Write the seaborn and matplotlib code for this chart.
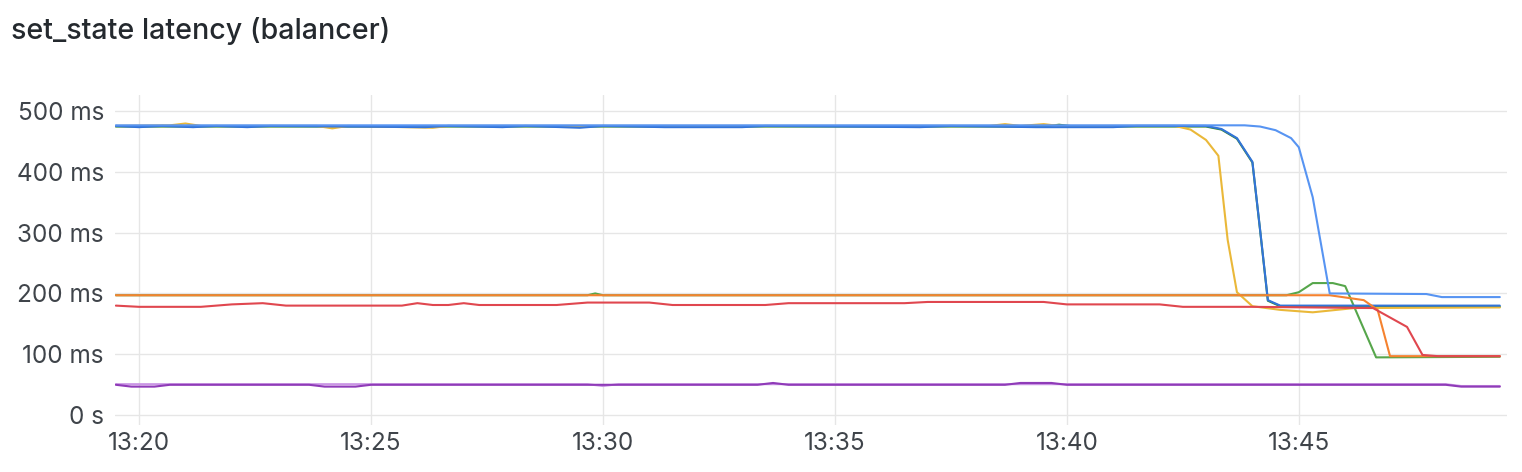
import pandas as pd
import matplotlib
matplotlib.use("Agg")
import matplotlib.pyplot as plt
import matplotlib.dates as mdates
from matplotlib.ticker import FuncFormatter, MultipleLocator
import seaborn as sns

# latency series (ms), each with its own sample times
light_blue_t = ["13:19:30", "13:21:00", "13:30:00", "13:42:00", "13:43:50", "13:44:10", "13:44:30",
                "13:44:50", "13:45:00", "13:45:18", "13:45:40", "13:47:45", "13:48:05", "13:49:20"]
light_blue_v = [476, 476, 476, 476, 476, 474, 468, 455, 440, 358, 200, 199, 194, 194]

dark_blue_t = ["13:19:30", "13:20:00", "13:20:30", "13:21:10", "13:21:40", "13:22:20", "13:22:50",
               "13:26:10", "13:26:40", "13:27:50", "13:28:20", "13:29:30", "13:30:00", "13:31:20",
               "13:33:00", "13:33:30", "13:36:50", "13:37:30", "13:39:20", "13:41:00", "13:41:30",
               "13:43:00", "13:43:20", "13:43:40", "13:44:00", "13:44:10", "13:44:20", "13:44:36",
               "13:49:20"]
dark_blue_v = [475, 473, 475, 473, 475, 473, 475, 473, 475, 473, 475, 472, 475, 473,
               473, 475, 473, 475, 473, 473, 475, 475, 470, 455, 416, 304, 189, 180, 180]

dark_green_t = ["13:19:30", "13:39:30", "13:39:50", "13:40:10", "13:43:00", "13:43:20", "13:43:40",
                "13:44:00", "13:44:10", "13:44:20", "13:44:36", "13:49:20"]
dark_green_v = [474, 474, 477, 474, 474, 469, 454, 415, 303, 188, 179, 178]

yellow_t = ["13:19:30", "13:20:40", "13:21:00", "13:21:20", "13:23:50", "13:24:10", "13:24:30",
            "13:26:20", "13:26:40", "13:38:20", "13:38:40", "13:39:00", "13:39:30", "13:39:50",
            "13:42:20", "13:42:40", "13:43:00", "13:43:16", "13:43:28", "13:43:40", "13:44:00",
            "13:44:36", "13:45:18", "13:46:12", "13:49:20"]
yellow_v = [475, 476, 479, 475, 475, 471, 475, 472, 475, 475, 478, 475, 478, 475,
            475, 469, 452, 426, 288, 202, 179, 173, 169, 176, 177]

green_t = ["13:19:30", "13:29:40", "13:29:50", "13:30:00", "13:44:44", "13:45:00", "13:45:18",
           "13:45:44", "13:46:00", "13:46:40", "13:49:20"]
green_v = [197, 197, 200, 197, 197, 202, 217, 217, 212, 95, 96]

orange_t = ["13:19:30", "13:45:40", "13:46:24", "13:46:42", "13:46:58", "13:49:20"]
orange_v = [197, 197, 189, 173, 97, 97]

red_t = ["13:19:30", "13:20:00", "13:21:20", "13:22:00", "13:22:40", "13:23:10", "13:25:40",
         "13:26:00", "13:26:20", "13:26:40", "13:27:00", "13:27:20", "13:29:00", "13:29:40",
         "13:31:00", "13:31:30", "13:33:30", "13:34:00", "13:36:30", "13:37:00", "13:39:30",
         "13:40:00", "13:42:00", "13:42:30", "13:44:00", "13:46:36", "13:47:20", "13:47:40",
         "13:48:00", "13:49:20"]
red_v = [180, 178, 178, 182, 184, 180, 180, 184, 181, 181, 184, 181, 181, 185,
         185, 181, 181, 184, 184, 186, 186, 182, 182, 178, 178, 176, 145, 99, 97, 97]

purple_t = ["13:19:30", "13:19:50", "13:20:20", "13:20:40", "13:23:40", "13:24:00", "13:24:40",
            "13:25:00", "13:33:20", "13:33:40", "13:34:00", "13:38:40", "13:39:00", "13:39:40",
            "13:40:00", "13:48:10", "13:48:30", "13:49:20"]
purple_v = [50, 47, 47, 50, 50, 47, 47, 50, 50, 53, 50, 50, 53, 53, 50, 50, 47, 47]

light_purple_t = ["13:19:30", "13:29:40", "13:30:00", "13:30:20", "13:48:10", "13:48:30", "13:49:20"]
light_purple_v = [51, 51, 48, 51, 51, 48, 48]

series = {
    "dark_green": (dark_green_t, dark_green_v, "#37872D"),
    "green": (green_t, green_v, "#56A64B"),
    "yellow": (yellow_t, yellow_v, "#EAB839"),
    "dark_blue": (dark_blue_t, dark_blue_v, "#3274D9"),
    "orange": (orange_t, orange_v, "#F5822F"),
    "red": (red_t, red_v, "#E0474F"),
    "light_purple": (light_purple_t, light_purple_v, "#CA95E5"),
    "purple": (purple_t, purple_v, "#8F3BB8"),
    "light_blue": (light_blue_t, light_blue_v, "#5794F2"),
}

frames = []
for name, (ts, vs, _) in series.items():
    frames.append(pd.DataFrame({
        "time": pd.to_datetime(["2024-01-01 " + t for t in ts]),
        "latency": vs,
        "series": name,
    }))
df = pd.concat(frames, ignore_index=True)
palette = {name: c for name, (_, _, c) in series.items()}

sns.set_style("white")
plt.rcParams["font.family"] = ["Inter", "DejaVu Sans"]
text_color = "#3f444a"

fig = plt.figure(figsize=(15.22, 4.72), dpi=100)
ax = fig.add_axes([0.0756, 0.0996, 0.9144, 0.6994])

sns.lineplot(data=df, x="time", y="latency", hue="series", hue_order=list(series),
             palette=palette, estimator=None, sort=False, legend=False,
             linewidth=1.5, ax=ax)

ax.set_ylim(-16, 526)
ax.set_xlim(pd.Timestamp("2024-01-01 13:19:29"), pd.Timestamp("2024-01-01 13:49:29"))
ax.yaxis.set_major_locator(MultipleLocator(100))
ax.yaxis.set_major_formatter(FuncFormatter(lambda v, _: "0 s" if v == 0 else f"{int(v)} ms"))
ax.xaxis.set_major_locator(mdates.MinuteLocator(byminute=range(0, 60, 5)))
ax.xaxis.set_major_formatter(mdates.DateFormatter("%H:%M"))

ax.grid(True, color="#e6e6e6", linewidth=1.0)
ax.set_axisbelow(True)
for s in ax.spines.values():
    s.set_visible(False)
ax.tick_params(axis="both", length=0, labelsize=17.5, colors=text_color, pad=8)
ax.tick_params(axis="x", pad=5)
ax.set_xlabel("")
ax.set_ylabel("")

fig.text(0.0072, 0.935, "set_state latency (balancer)", fontsize=20.6, fontweight="medium",
         color="#24292e", ha="left", va="center")

fig.savefig("out.png", dpi=100)
